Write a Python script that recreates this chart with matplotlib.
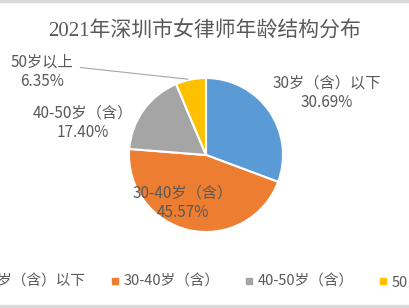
import matplotlib

matplotlib.use("Agg")
import matplotlib.pyplot as plt
import numpy as np
from matplotlib.lines import Line2D

plt.rcParams["font.family"] = ["Noto Sans CJK SC", "DejaVu Sans"]

# data
categories = ["30岁（含）以下", "30-40岁（含）", "40-50岁（含）", "50岁以上"]
shares = [30.69, 45.57, 17.40, 6.35]
colors = ["#5B9BD5", "#ED7D31", "#A5A5A5", "#FFC000"]
title = "2021年深圳市女律师年龄结构分布"

# label anchor positions (data units, pie radius = 1)
label_pos = [(1.57, 0.81), (-0.30, -0.62), (-1.60, 0.42), (-2.13, 1.08)]
TXT = "#595959"

fig = plt.figure(figsize=(4.09, 3.08), dpi=100)
cx, cy, r = 206, 155, 77
ax = fig.add_axes([(cx - r) / 409, (308 - cy - r) / 308, 2 * r / 409, 2 * r / 308])
wedges, _ = ax.pie(shares, colors=colors, startangle=90, counterclock=False,
                   wedgeprops=dict(edgecolor="white", linewidth=1.5))
ax.set_xlim(-1, 1)
ax.set_ylim(-1, 1)

for cat, val, (x, y) in zip(categories, shares, label_pos):
    ax.text(x, y, f"{cat}\n{val:.2f}%", ha="center", va="center",
            fontsize=11, color=TXT, linespacing=1.2, clip_on=False)

# leader line for the small slice
w = wedges[3]
mid = np.deg2rad((w.theta1 + w.theta2) / 2)
ax.annotate("", xy=(np.cos(mid), np.sin(mid)), xytext=(-1.67, 1.14),
            arrowprops=dict(arrowstyle="-", color="#A6A6A6", lw=0.8),
            annotation_clip=False)

fig.text(0.5, 1 - 30 / 308, title, ha="center", va="center", fontsize=15,
         color=TXT, family=["Liberation Serif", "Noto Sans CJK SC"])

handles = [Line2D([], [], marker="s", ls="", color=c, markersize=4.5) for c in colors]
fig.legend(handles, categories, loc="center", bbox_to_anchor=(0.515, 1 - 282 / 308),
           ncol=4, frameon=False, fontsize=10.5, labelcolor=TXT,
           handlelength=0.5, handletextpad=0.3, columnspacing=1.8)

# thin grey frame edges visible in the screenshot
fig.patches.append(plt.Rectangle((0, 1 - 2 / 308), 1, 2 / 308, transform=fig.transFigure,
                                 color="#D9D9D9", zorder=10))
fig.patches.append(plt.Rectangle((0, 0), 1, 3 / 308, transform=fig.transFigure,
                                 color="#D9D9D9", zorder=10))

fig.savefig("out.png", dpi=100)
